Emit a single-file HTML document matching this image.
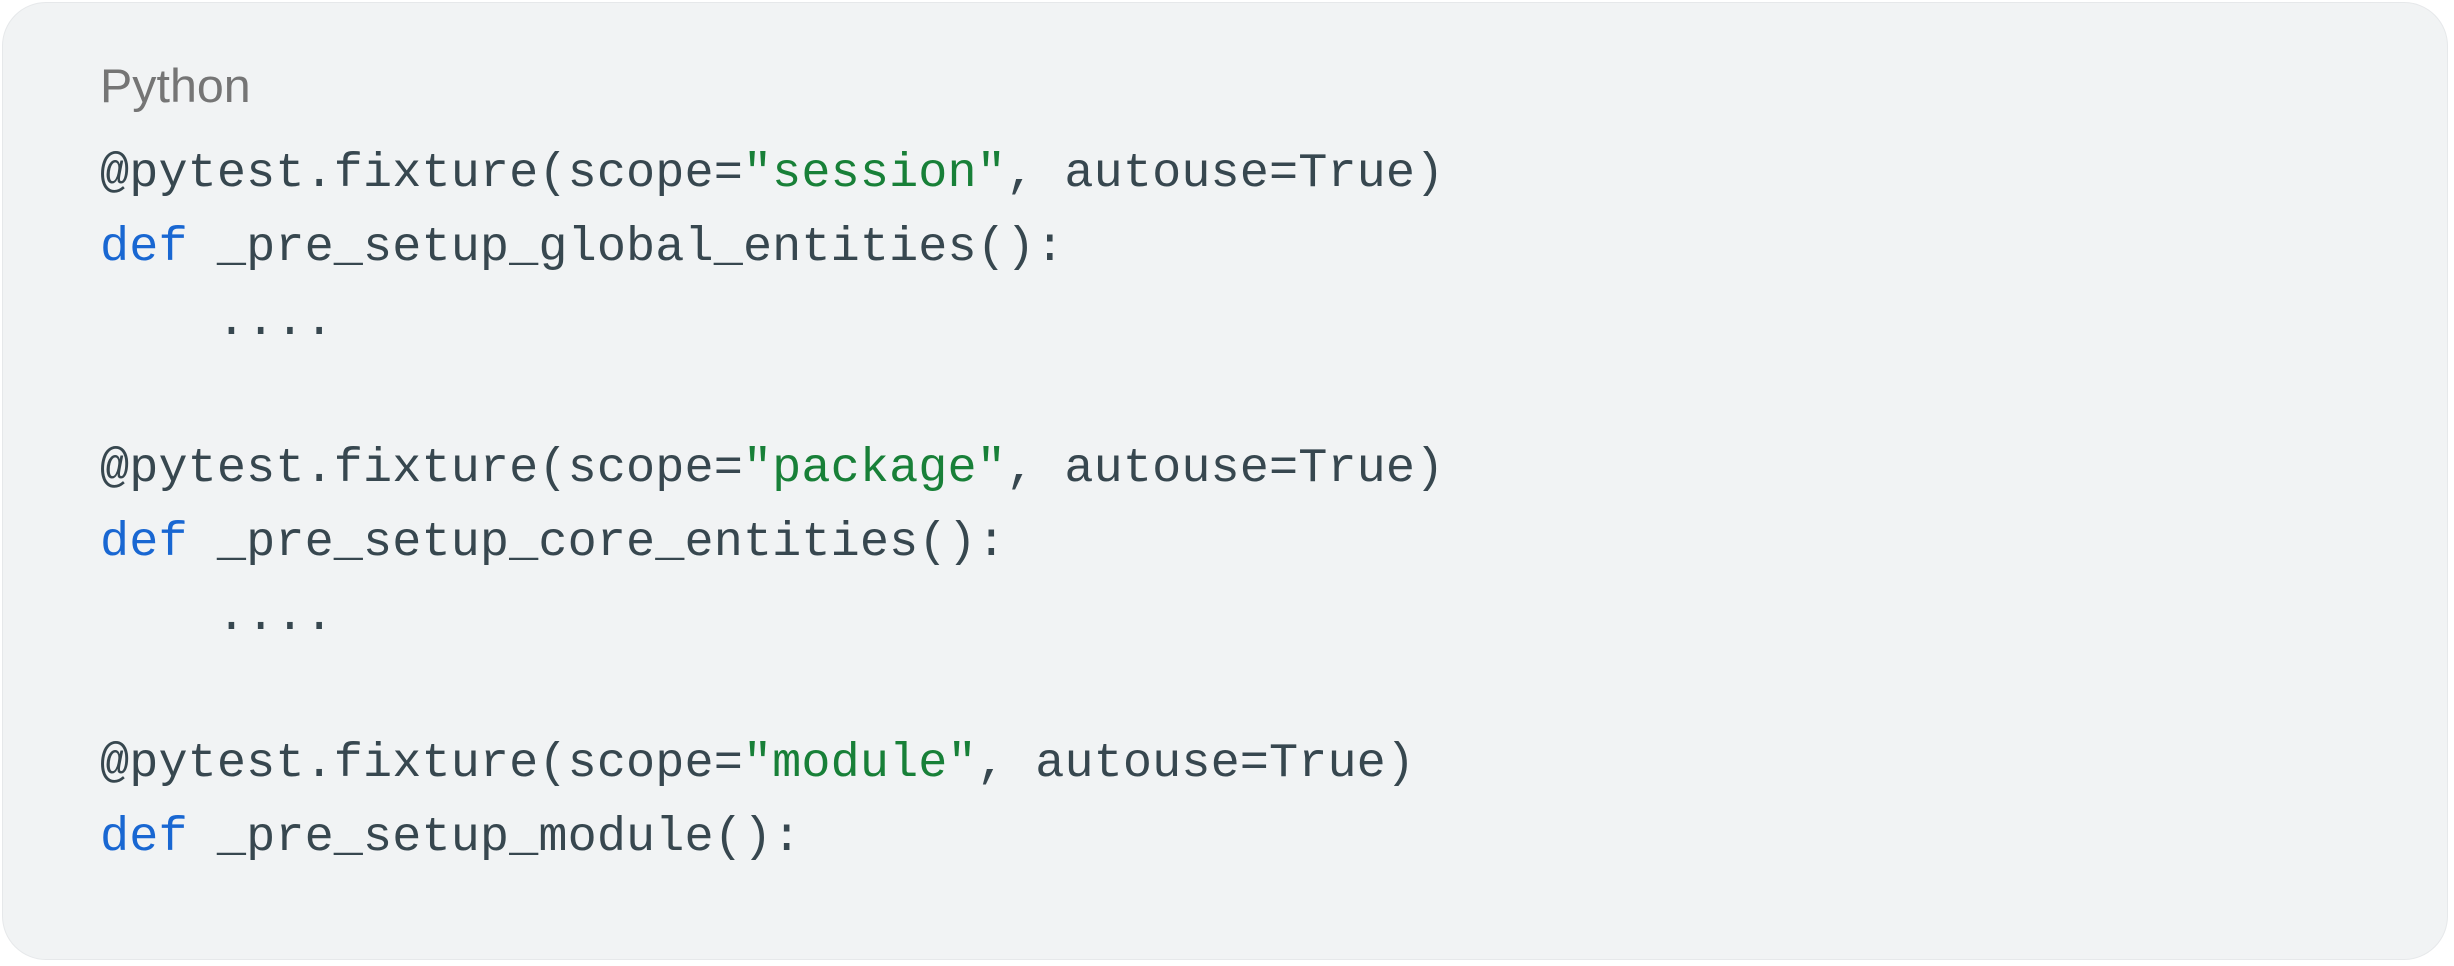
<!DOCTYPE html>
<html><head><meta charset="utf-8"><style>
html,body{margin:0;padding:0;background:#fff;width:2454px;height:966px;overflow:hidden}
.box{position:absolute;left:2px;top:2px;width:2444px;height:956px;background:#f1f3f4;border:1px solid #e6e8ea;border-radius:44px}
.lab{position:absolute;left:100px;top:58px;font-family:"Liberation Sans",sans-serif;font-size:47px;color:#757575;transform:scaleX(1.03);transform-origin:left}
pre{position:absolute;left:100px;top:137px;margin:0;font-family:"Liberation Mono",monospace;font-size:48.5px;line-height:73.8px;letter-spacing:0.12px;color:#37474f}
.k{color:#1967d2}.s{color:#188038}
</style></head><body>
<div class="box"></div>
<div class="lab">Python</div>
<pre>@pytest.fixture(scope=<span class="s">"session"</span>, autouse=True)
<span class="k">def</span> _pre_setup_global_entities():
    ....

@pytest.fixture(scope=<span class="s">"package"</span>, autouse=True)
<span class="k">def</span> _pre_setup_core_entities():
    ....

@pytest.fixture(scope=<span class="s">"module"</span>, autouse=True)
<span class="k">def</span> _pre_setup_module():
</pre>
</body></html>
